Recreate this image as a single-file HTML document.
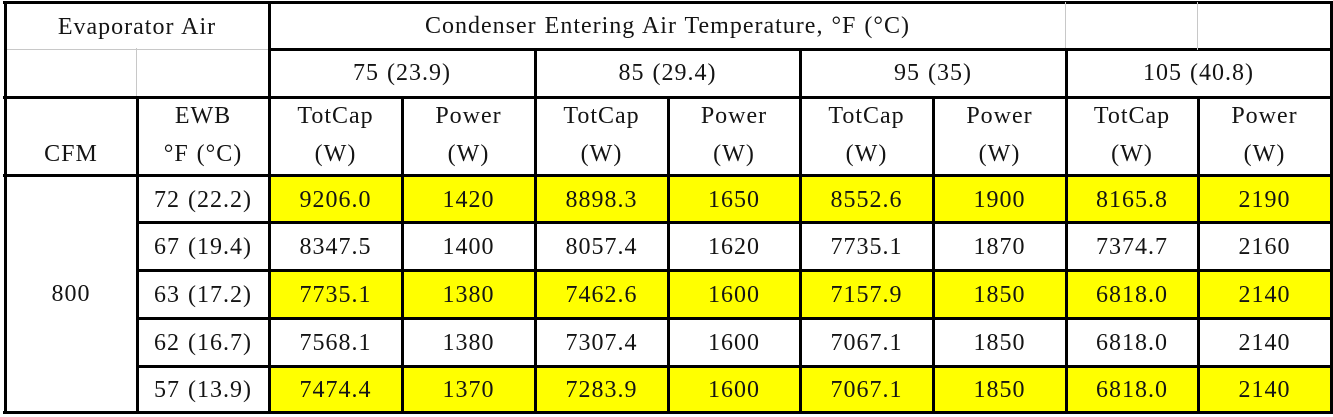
<!DOCTYPE html>
<html><head><meta charset="utf-8">
<style>
body{margin:0;width:1333px;height:417px;background:#fff;position:relative;overflow:hidden;font-family:"Liberation Serif",serif;}
.l{position:absolute;background:#000;}
.g{position:absolute;background:#c8c8c8;}
.f{position:absolute;background:#ffff00;}
.t{position:absolute;font-size:24px;letter-spacing:1px;word-spacing:1px;color:#141414;text-align:center;white-space:nowrap;line-height:28px;}
</style></head>
<body>
<script>
const X=[5,137,269,402,535,668,800,933,1066,1198,1331];
const Y=[3,49,97,175,222,270,318,366,412];
const ewb=["72 (22.2)","67 (19.4)","63 (17.2)","62 (16.7)","57 (13.9)"];
const temps=["75 (23.9)","85 (29.4)","95 (35)","105 (40.8)"];
const totcap=[[9206.0,8347.5,7735.1,7568.1,7474.4],[8898.3,8057.4,7462.6,7307.4,7283.9],[8552.6,7735.1,7157.9,7067.1,7067.1],[8165.8,7374.7,6818.0,6818.0,6818.0]];
const power=[[1420,1400,1380,1380,1370],[1650,1620,1600,1600,1600],[1900,1870,1850,1850,1850],[2190,2160,2140,2140,2140]];
const b=document.body;
function box(cls,x,y,w,h,name){const d=document.createElement('div');d.className=cls;d.style.cssText=`left:${x}px;top:${y}px;width:${w}px;height:${h}px`;


b.appendChild(d);return d;}
function txt(s,x1,x2,yc,name){const d=box('t',x1-40,yc-14,x2-x1+80,28,name);d.textContent=s;return d;}
[0,2,4].forEach(r=>box('f',X[2],Y[3+r],X[10]-X[2],Y[4+r]-Y[3+r],'highlight-row'));
box('l',X[0]-2,Y[0]-2,X[10]-X[0]+4,3,'border-top');
box('g',X[0],Y[1],X[2]-X[0],1,'grid-line');
box('l',X[2],Y[1]-1,X[10]-X[2]+2,3,'grid-line');
box('l',X[0]-2,Y[2]-1,X[10]-X[0]+4,3,'grid-line');
box('l',X[0]-2,Y[3]-1,X[10]-X[0]+4,3,'grid-line');
for(let i=4;i<8;i++)box('l',X[1]-1,Y[i]-1,X[10]-X[1]+2,3,'grid-line');
box('l',X[0]-2,Y[8]-1,X[10]-X[0]+4,3,'border-bottom');
function v(cls,x,y1,y2){box(cls,x-1,y1-1,cls=='g'?1:3,y2-y1+2,'grid-line');}
v('l',X[0],Y[0],Y[8]);v('l',X[10],Y[0],Y[8]);v('l',X[2],Y[0],Y[8]);
v('g',X[8],Y[0],Y[1]);v('g',X[9],Y[0],Y[1]);
v('g',X[1],Y[1],Y[2]);
[4,6,8].forEach(i=>v('l',X[i],Y[1],Y[8]));
[1,3,5,7,9].forEach(i=>v('l',X[i],Y[2],Y[8]));
txt('Evaporator Air',X[0],X[2],27,'evaporator-air-header');
txt('Condenser Entering Air Temperature, °F (°C)',X[2],X[8],26,'condenser-temp-header');
temps.forEach((s,i)=>txt(s,X[2+2*i],X[4+2*i],73,'temp-header'));
txt('CFM',X[0],X[1],154,'cfm-header');
txt('EWB',X[1],X[2],116,'ewb-header');
txt('°F (°C)',X[1],X[2],154,'ewb-unit');
for(let i=0;i<4;i++){
 txt('TotCap',X[2+2*i],X[3+2*i],116,'totcap-header');txt('(W)',X[2+2*i],X[3+2*i],154,'totcap-unit');
 txt('Power',X[3+2*i],X[4+2*i],116,'power-header');txt('(W)',X[3+2*i],X[4+2*i],154,'power-unit');
}
txt('800',X[0],X[1],(Y[3]+Y[8])/2,'cfm-value');
ewb.forEach((s,r)=>{
 const yc=(Y[3+r]+Y[4+r])/2+1;
 txt(s,X[1],X[2],yc,'ewb-value');
 for(let i=0;i<4;i++){
  txt(totcap[i][r].toFixed(1),X[2+2*i],X[3+2*i],yc,'totcap-value');
  txt(String(power[i][r]),X[3+2*i],X[4+2*i],yc,'power-value');
 }
});
</script>
</body></html>
